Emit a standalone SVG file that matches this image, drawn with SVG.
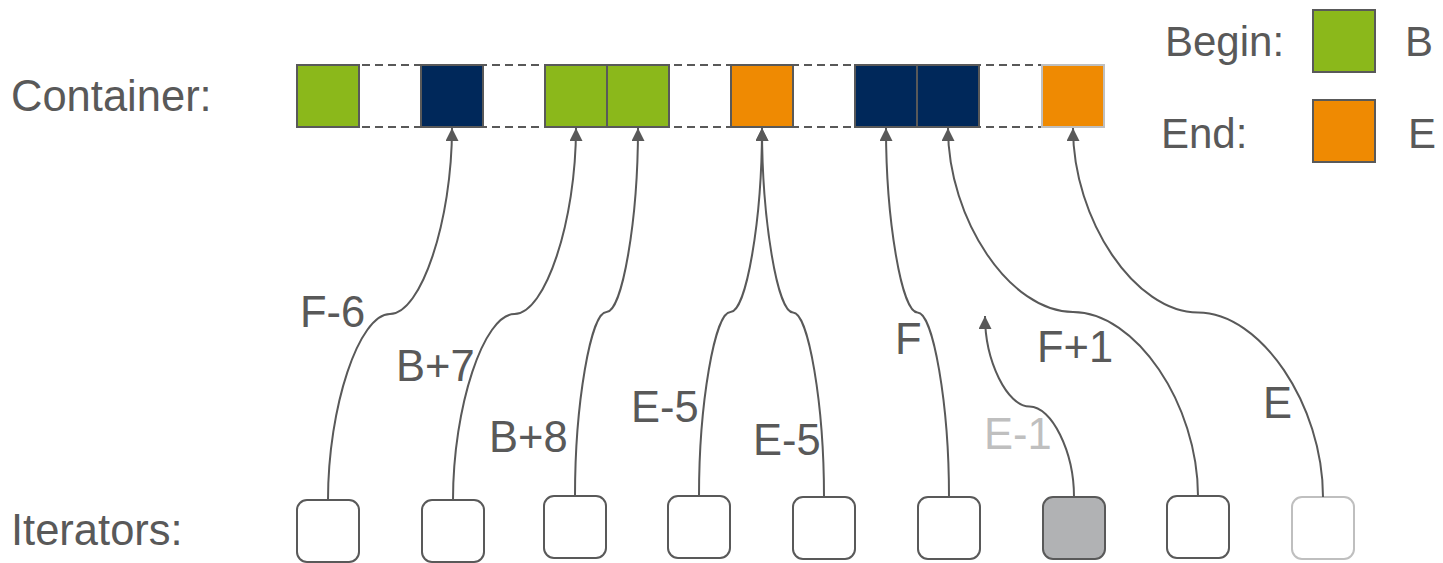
<svg xmlns="http://www.w3.org/2000/svg" width="1443" height="563" viewBox="0 0 1443 563">
  <style>
    text { font-family: "Liberation Sans", Arial, sans-serif; font-size: 43.5px; fill: #595959; }
    .legend text { font-size: 42px; }
    .cell { stroke: #595959; stroke-width: 2; }
    .green { fill: #8bb81b; }
    .navy { fill: #00285a; }
    .orange { fill: #ef8a02; }
    .slot { fill: none; stroke: #595959; stroke-width: 2; stroke-dasharray: 8 5; }
    .iter { fill: #ffffff; stroke: #595959; stroke-width: 2; }
    .link { fill: none; stroke: #595959; stroke-width: 2; marker-end: url(#arrow); }
    .faded { fill: #bfbfbf; }
  </style>
  <defs>
    <marker id="arrow" markerUnits="userSpaceOnUse" markerWidth="13" markerHeight="13" viewBox="0 0 12 12" refX="12" refY="6" orient="auto">
      <path d="M0,0 L12,6 L0,12 z" fill="#595959"/>
    </marker>
  </defs>
  <rect width="1443" height="563" fill="#ffffff"/>

  <!-- row labels -->
  <text x="11" y="111">Container:</text>
  <text x="11" y="545">Iterators:</text>

  <!-- legend -->
  <g id="legend-begin" class="legend">
    <text x="1165" y="56">Begin:</text>
    <rect class="cell green" x="1313" y="10" width="62" height="62"/>
    <text x="1405" y="56">B</text>
  </g>
  <g id="legend-end" class="legend">
    <text x="1161" y="148">End:</text>
    <rect class="cell orange" x="1313" y="100" width="62" height="62"/>
    <text x="1408" y="148">E</text>
  </g>

  <!-- container: dashed slot outline plus filled cells -->
  <g id="container">
    <line class="slot" x1="297" y1="65" x2="1042" y2="65"/>
    <line class="slot" x1="297" y1="127" x2="1042" y2="127"/>
    <rect class="cell green" x="297" y="65" width="62" height="62"/>
    <rect class="cell navy" x="421" y="65" width="62" height="62"/>
    <rect class="cell green" x="545" y="65" width="62" height="62"/>
    <rect class="cell green" x="607" y="65" width="62" height="62"/>
    <rect class="cell orange" x="731" y="65" width="62" height="62"/>
    <rect class="cell navy" x="855" y="65" width="62" height="62"/>
    <rect class="cell navy" x="917" y="65" width="62" height="62"/>
    <rect class="orange" x="1042" y="65" width="62" height="62" stroke="#bfbfbf" stroke-width="2"/>
  </g>

  <!-- iterators -->
  <g id="it-1"><rect class="iter" x="297" y="500" width="62" height="62" rx="10"/></g>
  <g id="it-2"><rect class="iter" x="422" y="500" width="62" height="62" rx="10"/></g>
  <g id="it-3"><rect class="iter" x="544" y="496" width="62" height="62" rx="10"/></g>
  <g id="it-4"><rect class="iter" x="668" y="496" width="62" height="62" rx="10"/></g>
  <g id="it-5"><rect class="iter" x="793" y="497" width="62" height="62" rx="10"/></g>
  <g id="it-6"><rect class="iter" x="918" y="497" width="62" height="62" rx="10"/></g>
  <g id="it-7"><rect class="iter" x="1043" y="497" width="62" height="62" rx="10" style="fill:#b1b2b4"/></g>
  <g id="it-8"><rect class="iter" x="1167" y="496" width="62" height="62" rx="10"/></g>
  <g id="it-9"><rect class="iter" x="1292" y="497" width="62" height="62" rx="10" style="stroke:#bfbfbf"/></g>

  <!-- connectors from iterators to container cells -->
  <g id="connectors">
    <path class="link" d="M328,500 C328,407 359,314 390,314 C421,314 452,221 452,128"/>
    <path class="link" d="M453,500 C453,407 483.75,314 514.5,314 C545.25,314 576,221 576,128"/>
    <path class="link" d="M575,496 C575,404 590.75,312 606.5,312 C622.25,312 638,220 638,128"/>
    <path class="link" d="M699,496 C699,404 714.75,312 730.5,312 C746.25,312 762,220 762,128"/>
    <path class="link" d="M824,497 C824,404.75 808.5,312.5 793,312.5 C777.5,312.5 762,220.25 762,128"/>
    <path class="link" d="M949,497 C949,404.75 933.25,312.5 917.5,312.5 C901.75,312.5 886,220.25 886,128"/>
    <path class="link" d="M1074,497 C1074,451.75 1051.75,406.5 1029.5,406.5 C1007.25,406.5 985,361.25 985,316"/>
    <path class="link" d="M1198,496 C1198,404 1135.5,312 1073,312 C1010.5,312 948,220 948,128"/>
    <path class="link" d="M1323,497 C1323,404.75 1260.5,312.5 1198,312.5 C1135.5,312.5 1073,220.25 1073,128"/>
  </g>

  <!-- connector labels -->
  <g id="labels">
    <text x="300" y="327">F-6</text>
    <text x="396" y="381">B+7</text>
    <text x="489" y="452">B+8</text>
    <text x="631" y="422">E-5</text>
    <text x="753" y="455">E-5</text>
    <text x="895" y="354">F</text>
    <text class="faded" x="984" y="449">E-1</text>
    <text x="1037" y="362">F+1</text>
    <text x="1263" y="418">E</text>
  </g>
</svg>
